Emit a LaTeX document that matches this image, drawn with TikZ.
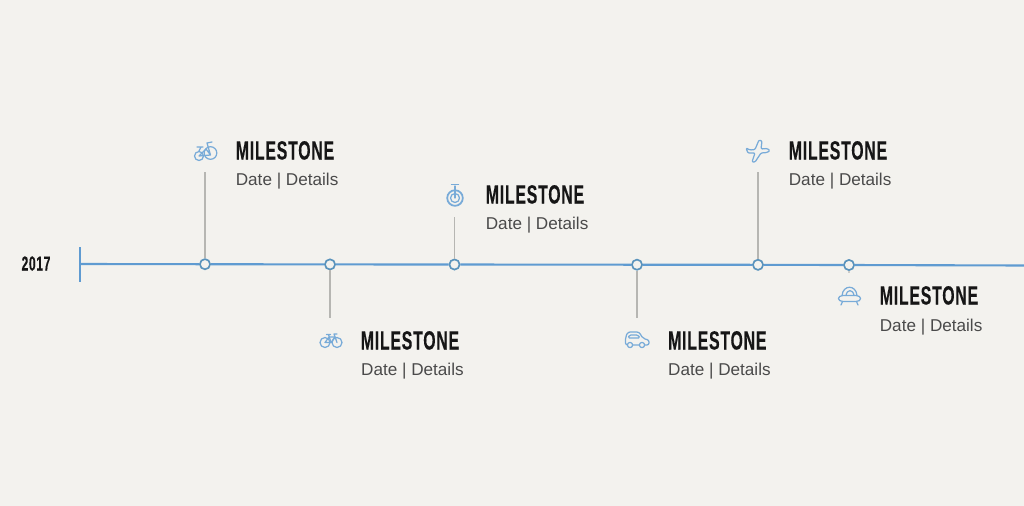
\documentclass[tikz,border=0pt]{standalone}
\usepackage{fontspec}
\setmainfont{Liberation Sans}
\newfontfamily\headfont[FakeStretch=0.6,LetterSpace=3,FakeBold=0.3]{Liberation Sans Bold}
\definecolor{paper}{HTML}{F3F2EE}
\definecolor{axisblue}{HTML}{5F9BD1}
\definecolor{dotblue}{HTML}{5A93BC}
\definecolor{stemgrey}{HTML}{B6B6B2}
\definecolor{iconblue}{HTML}{78ABD8}
\definecolor{bodygrey}{HTML}{4A4A4A}
\definecolor{headblack}{HTML}{161616}
\tikzset{
  axisline/.style={draw=axisblue, line width=1.2pt},
  stemline/.style={draw=stemgrey, line width=1pt},
  mdot/.style={circle, draw=dotblue, fill=paper, line width=0.95pt, inner sep=0pt, minimum size=5.8pt},
  headtext/.style={anchor=base west, inner sep=0pt, text=headblack, font=\headfont\fontsize{15}{15}\selectfont},
  bodytext/.style={anchor=base west, inner sep=0pt, text=bodygrey, font=\fontsize{9.75}{10}\selectfont},
  icon/.style={draw=iconblue, line width=0.7pt, line cap=round, line join=round}
}
\begin{document}
\begin{tikzpicture}[x=0.02cm,y=-0.02cm]
  \useasboundingbox (0,0) rectangle (1024,505);
  \fill [paper] (-5,-5) rectangle (1029,510);

  % Year and start of the line
  \node [headtext, font=\headfont\fontsize{11.5}{12}\selectfont, anchor=base] (year) at (36,270.5) {2017};
  \coordinate (tick top) at (80,247);
  \coordinate (tick bottom) at (80,282);
  \coordinate (start) at (80,264);
  \coordinate (end) at (1029,265.5);
  \draw [axisline] (tick top) -- (tick bottom);

  % Milestones on the line
  \node [mdot] (m1) at (205,264.2) {};
  \node [mdot] (m2) at (330,264.4) {};
  \node [mdot] (m3) at (454.5,264.5) {};
  \node [mdot] (m4) at (637,264.7) {};
  \node [mdot] (m5) at (758,264.8) {};
  \node [mdot] (m6) at (849,265) {};
  \draw [axisline] (start) -- (m1) -- (m2) -- (m3) -- (m4) -- (m5) -- (m6) -- (end);

  % Stems
  \coordinate (s1) at (205,172);
  \coordinate (s2) at (330,318);
  \coordinate (s3) at (454.5,217);
  \coordinate (s4) at (637,318);
  \coordinate (s5) at (758,172);
  \coordinate (s6) at (849,273);
  \draw [stemline] (m1) -- (s1);
  \draw [stemline] (m2) -- (s2);
  \draw [stemline] (m3) -- (s3);
  \draw [stemline] (m4) -- (s4);
  \draw [stemline] (m5) -- (s5);
  \draw [stemline, stemgrey!70] (m6) -- (s6);

  % Labels
  \node [headtext] (h1) at (235.5,159.5) {MILESTONE};
  \node [bodytext] (b1) at (235.5,185) {Date | Details};
  \node [headtext] (h2) at (360.5,349.5) {MILESTONE};
  \node [bodytext] (b2) at (360.8,375) {Date | Details};
  \node [headtext] (h3) at (485.5,203.5) {MILESTONE};
  \node [bodytext] (b3) at (485.5,229) {Date | Details};
  \node [headtext] (h4) at (667.8,349.5) {MILESTONE};
  \node [bodytext] (b4) at (667.8,375) {Date | Details};
  \node [headtext] (h5) at (788.5,159.5) {MILESTONE};
  \node [bodytext] (b5) at (788.5,185) {Date | Details};
  \node [headtext] (h6) at (879.5,304.5) {MILESTONE};
  \node [bodytext] (b6) at (879.5,331) {Date | Details};

  % Icon 1: tricycle
  \draw [icon] (210.5,153) circle [radius=6.3];
  \draw [icon] (199,156) circle [radius=4.5];
  \draw [icon] (210.5,155) -- (207,143) -- (212,142) (199,156) -- (206,149) -- (210.5,155) (199,156) -- (210.5,155);
  \draw [icon] (199,151) -- (201,147) (197,147) -- (203,147);

  % Icon 2: bicycle
  \draw [icon] (325,342.5) circle [radius=5];
  \draw [icon] (337,342.5) circle [radius=5];
  \draw [icon] (325,342.5) -- (329,337) -- (335,337) -- (331,342.5) -- cycle;
  \draw [icon] (337,342.5) -- (334,334) -- (337,334) (331,342.5) -- (328.5,334.5) (326.5,334.5) -- (330.5,334.5);

  % Icon 3: unicycle
  \draw [icon, line width=1pt] (455,198) circle [radius=7.8];
  \draw [icon] (455,198) circle [radius=4.5];
  \draw [icon] (455,198) -- (455,186) (451.5,184.5) -- (458.5,184.5);

  % Icon 4: car
  \draw [icon, rounded corners=1.2pt] (627.5,345) -- (625.5,345) -- (625.5,337) -- (628,332) -- (639,332) -- (643,338.5) -- (649,340) -- (649,345) -- (645,345)
    (639,345) -- (633,345);
  \draw [icon, rounded corners=0.8pt] (628,338) -- (629.5,335) -- (638,335) -- (640,338) -- cycle;
  \draw [icon] (630,345) circle [radius=2.6];
  \draw [icon] (642,345) circle [radius=2.6];

  % Icon 5: plane
  \draw [icon, rounded corners=0.6pt] (746,148) -- (748,153) -- (755,153) -- (752,162) -- (755,162) -- (761,153) -- (767,152.5) -- (770,150.5) -- (767,148.5) -- (761,149) -- (762,141) -- (759,140) -- (755,149.5) -- (750,150) -- cycle;

  % Icon 6: flying saucer
  \draw [icon] (842,295.5) .. controls (843,284.5) and (856,284.5) .. (857,295.5);
  \draw [icon] (846,295.5) .. controls (847,289) and (853,289) .. (854,295.5);
  \draw [icon] (843,295.5) -- (856,295.5) .. controls (862,295.5) and (862,301.5) .. (856,301.5) -- (843,301.5) .. controls (837,301.5) and (837,295.5) .. (843,295.5);
  \draw [icon] (842.5,301.5) -- (841,305) (856.5,301.5) -- (858,305);
\end{tikzpicture}
\end{document}
